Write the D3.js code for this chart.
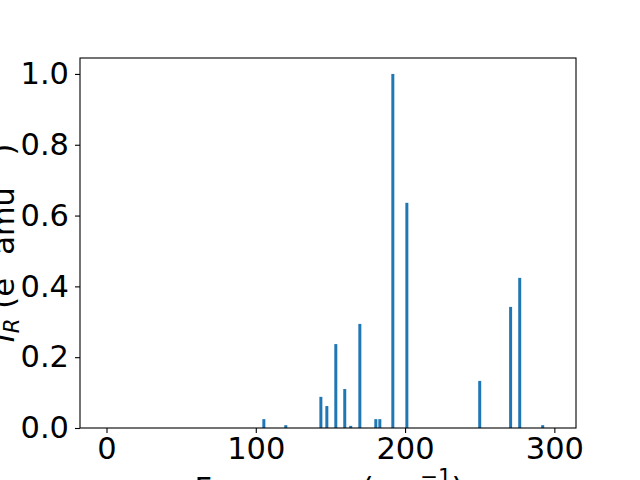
<!DOCTYPE html>
<html>
<head>
<meta charset="utf-8">
<script src="https://cdn.jsdelivr.net/npm/d3@7"></script>
<style>
  html, body { margin: 0; padding: 0; background: #fff; }
  svg { display: block; }
  text { font-family: "DejaVu Sans", sans-serif; fill: #000; }
</style>
</head>
<body>
<svg id="chart" width="640" height="480"></svg>
<script>
const frequencies = [105.4, 120.1, 143.6, 147.6, 153.6, 159.6, 163.6, 169.7, 180.4, 183.1, 191.8, 201.2, 250.0, 270.7, 276.8, 292.2];
const intensities = [0.025, 0.008, 0.088, 0.062, 0.237, 0.110, 0.006, 0.294, 0.025, 0.025, 1.0, 0.636, 0.133, 0.342, 0.424, 0.008];
const xTicks = [0, 100, 200, 300];
const yTicks = [0.0, 0.2, 0.4, 0.6, 0.8, 1.0];
const barWidth = 2.0;

const svg = d3.select("#chart");
const mLeft = 80, mRight = 576, mTop = 58, mBottom = 428;

const x = d3.scaleLinear().domain([-17.75, 314.5]).range([mLeft, mRight]);
const y = d3.scaleLinear().domain([0, 1.045]).range([mBottom, mTop]);

const data = frequencies.map((f, i) => ({f, v: intensities[i]}));

svg.append("g").selectAll("rect").data(data).enter().append("rect")
  .attr("x", d => x(d.f - barWidth / 2))
  .attr("width", d => x(d.f + barWidth / 2) - x(d.f - barWidth / 2))
  .attr("y", d => y(d.v))
  .attr("height", d => y(0) - y(d.v))
  .attr("fill", "#1f77b4");

const fontSize = 30.5;

const xAxis = svg.append("g").attr("transform", `translate(0,${mBottom})`)
  .call(d3.axisBottom(x).tickValues(xTicks).tickFormat(d3.format("d")).tickSize(5).tickPadding(4));
const yAxis = svg.append("g").attr("transform", `translate(${mLeft},0)`)
  .call(d3.axisLeft(y).tickValues(yTicks).tickFormat(d3.format(".1f")).tickSize(5).tickPadding(6));

[xAxis, yAxis].forEach(g => {
  g.select(".domain").remove();
  g.selectAll(".tick line").attr("stroke", "#000").attr("stroke-width", 1.1);
  g.selectAll(".tick text").attr("font-size", fontSize).attr("font-family", "DejaVu Sans, sans-serif").attr("fill", "#000");
});

svg.append("rect")
  .attr("x", mLeft).attr("y", mTop)
  .attr("width", mRight - mLeft).attr("height", mBottom - mTop)
  .attr("fill", "none").attr("stroke", "#000").attr("stroke-width", 1.1);

// X label
const xl = svg.append("text")
  .attr("x", (mLeft + mRight) / 2 + 1)
  .attr("y", 499)
  .attr("text-anchor", "middle")
  .attr("font-size", fontSize);
xl.append("tspan").text("Frequency (cm");
xl.append("tspan").attr("font-size", fontSize * 0.7).attr("dy", -15).text("−1");
xl.append("tspan").attr("dy", 15).text(")");

// Y label
const yl = svg.append("text")
  .attr("transform", `translate(14,${(mTop + mBottom) / 2}) rotate(-90)`)
  .attr("text-anchor", "middle")
  .attr("font-size", fontSize);
yl.append("tspan").attr("font-style", "italic").text("I");
yl.append("tspan").attr("font-style", "italic").attr("font-size", fontSize * 0.7).attr("dy", 5).text("R");
yl.append("tspan").attr("dy", -5).text(" (e");
yl.append("tspan").attr("font-size", fontSize * 0.7).attr("dy", -15).text("2");
yl.append("tspan").attr("dy", 15).text(" amu");
yl.append("tspan").attr("font-size", fontSize * 0.7).attr("dy", -15).text("−1");
yl.append("tspan").attr("dy", 15).text(")");
</script>
</body>
</html>
